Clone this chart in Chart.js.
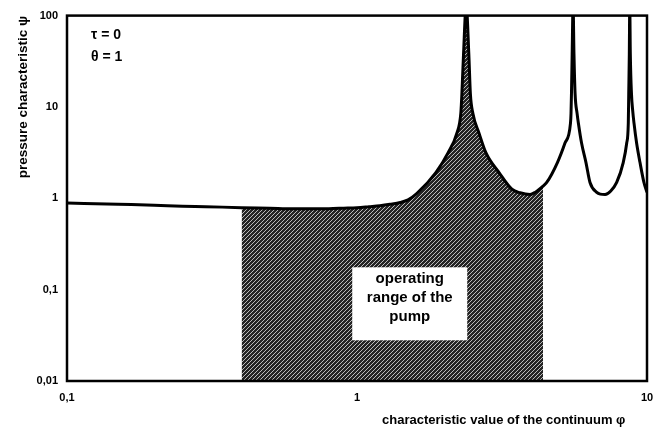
<!DOCTYPE html>
<html>
<head>
<meta charset="utf-8">
<script src="https://cdn.jsdelivr.net/npm/chart.js@4.4.1/dist/chart.umd.min.js"></script>
<style>
  body { margin: 0; background: #fff; }
  #wrap { width: 665px; height: 428px; }
</style>
</head>
<body>
<div id="wrap"><canvas id="myChart"></canvas></div>
<script>
// characteristic value of the continuum (phi) and pressure characteristic (psi)
const phi = [0.1, 0.15, 0.2, 0.25, 0.3, 0.4, 0.5, 0.6, 0.7, 0.8, 0.9, 1, 1.1, 1.2, 1.3, 1.41, 1.5, 1.61, 1.87, 2.06,
    2.21, 2.28, 2.3, 2.33, 2.38, 2.43, 2.46, 2.51, 2.635, 2.785, 3.09, 3.42, 3.65, 3.95, 4.11, 4.38, 4.51, 4.91, 5.21, 5.447,
    5.47, 5.49, 5.52, 5.56, 5.6, 5.65, 5.74, 5.8, 5.95, 6.16, 6.36, 6.71, 6.9, 7.17, 7.5, 7.86, 8.28, 8.51, 8.62, 8.65,
    8.69, 8.72, 8.76, 8.84, 8.93, 9.02, 9.21, 9.46, 9.76, 10];
const psi = [0.89, 0.86, 0.84, 0.82, 0.81, 0.79, 0.78, 0.77, 0.77, 0.77, 0.78, 0.79, 0.81, 0.83, 0.86, 0.9, 0.96, 1.13, 1.91, 3.14,
    5.17, 8.5, 14, 38, 130, 38, 14, 8.5, 5.17, 3.14, 1.91, 1.26, 1.15, 1.1, 1.16, 1.36, 1.49, 2.46, 4.0, 6.64,
    8.5, 14, 38, 130, 38, 14, 8.5, 6.64, 4.0, 2.46, 1.49, 1.16, 1.11, 1.1, 1.2, 1.49, 2.46, 4.0, 6.64, 14,
    38, 130, 38, 14, 9, 6.64, 4.0, 2.46, 1.49, 1.16];

// operating range of the pump
const rangeFrom = 0.4;
const rangeTo = 4.38;

const xTicks = [0.1, 1, 10];
const xTickLabels = ["0,1", "1", "10"];
const yTicks = [0.01, 0.1, 1, 10, 100];
const yTickLabels = ["0,01", "0,1", "1", "10", "100"];

const FONT = "'Liberation Sans', Arial, sans-serif";

const curve = phi.map((x, i) => ({ x: x, y: psi[i] }));
const operating = curve.filter((p) => p.x >= rangeFrom && p.x <= rangeTo);

// diagonal hatch for the shaded area
function makeHatch() {
    const s = 4;
    const c = document.createElement("canvas");
    c.width = s;
    c.height = s;
    const g = c.getContext("2d");
    g.fillStyle = "#242424";
    g.fillRect(0, 0, s, s);
    g.strokeStyle = "#cccccc";
    g.lineWidth = 0.9;
    g.beginPath();
    g.moveTo(-1, s + 1); g.lineTo(s + 1, -1);
    g.moveTo(-1, 1); g.lineTo(1, -1);
    g.moveTo(s - 1, s + 1); g.lineTo(s + 1, s - 1);
    g.stroke();
    return g.createPattern(c, "repeat");
}

const decorations = {
    id: "decorations",
    afterDatasetsDraw(chart) {
        const { ctx, chartArea, scales } = chart;
        ctx.save();

        // label box inside the operating range
        const cx = scales.x.getPixelForValue(1.52);
        const cy = scales.y.getPixelForValue(0.07);
        const w = 115, h = 73;
        ctx.fillStyle = "#fff";
        ctx.fillRect(cx - w / 2, cy - h / 2, w, h);
        ctx.fillStyle = "#000";
        ctx.font = "bold 15px " + FONT;
        ctx.textAlign = "center";
        ctx.textBaseline = "middle";
        ["operating", "range of the", "pump"].forEach((t, i) => {
            ctx.fillText(t, cx, cy - 25 + i * 19);
        });

        // parameters
        ctx.textAlign = "left";
        ctx.font = "bold 14px " + FONT;
        ctx.fillText("\u03c4 = 0", 91, 35);
        ctx.fillText("\u03b8 = 1", 91, 57);

        // frame
        ctx.strokeStyle = "#000";
        ctx.lineWidth = 2.5;
        ctx.strokeRect(chartArea.left, chartArea.top, chartArea.right - chartArea.left, chartArea.bottom - chartArea.top);

        // axis titles
        ctx.font = "bold 13px " + FONT;
        ctx.textAlign = "left";
        ctx.textBaseline = "middle";
        ctx.fillText("characteristic value of the continuum \u03c6", 382, 420);
        ctx.font = "bold 13.5px " + FONT;
        ctx.translate(23, 97);
        ctx.rotate(-Math.PI / 2);
        ctx.textAlign = "center";
        ctx.fillText("pressure characteristic \u03c8", 0, 0);
        ctx.restore();
    },
};

const config = {
    type: "line",
    data: {
        datasets: [
            {
                data: curve,
                borderColor: "#000",
                borderWidth: 3,
                pointRadius: 0,
                cubicInterpolationMode: "monotone",
                fill: false,
            },
            {
                data: operating,
                borderWidth: 0,
                pointRadius: 0,
                cubicInterpolationMode: "monotone",
                backgroundColor: makeHatch(),
                fill: "start",
            },
        ],
    },
    options: {
        responsive: true,
        maintainAspectRatio: false,
        animation: false,
        layout: {
            padding: { left: 0, top: 11, right: 18, bottom: 0 },
        },
        plugins: {
            legend: { display: false },
            tooltip: { enabled: false },
        },
        scales: {
            x: {
                type: "logarithmic",
                min: 0.1,
                max: 10,
                grid: { display: false, drawTicks: false },
                border: { display: false },
                afterBuildTicks: (scale) => {
                    scale.ticks = xTicks.map((v) => ({ value: v }));
                },
                afterFit: (scale) => {
                    scale.height = 47;
                },
                ticks: {
                    autoSkip: false,
                    maxRotation: 0,
                    padding: 10,
                    color: "#000",
                    font: { family: FONT, size: 11, weight: "bold" },
                    callback: (v, i) => xTickLabels[i],
                },
            },
            y: {
                type: "logarithmic",
                min: 0.01,
                max: 100,
                grid: { display: false, drawTicks: false },
                border: { display: false },
                afterBuildTicks: (scale) => {
                    scale.ticks = yTicks.map((v) => ({ value: v }));
                },
                afterFit: (scale) => {
                    scale.width = 67;
                },
                ticks: {
                    autoSkip: false,
                    padding: 9,
                    color: "#000",
                    font: { family: FONT, size: 11, weight: "bold" },
                    callback: (v, i) => yTickLabels[i],
                },
            },
        },
    },
    plugins: [decorations],
};

const ctx = document.getElementById("myChart").getContext("2d");
const chart = new Chart(ctx, config);
</script>
</body>
</html>
